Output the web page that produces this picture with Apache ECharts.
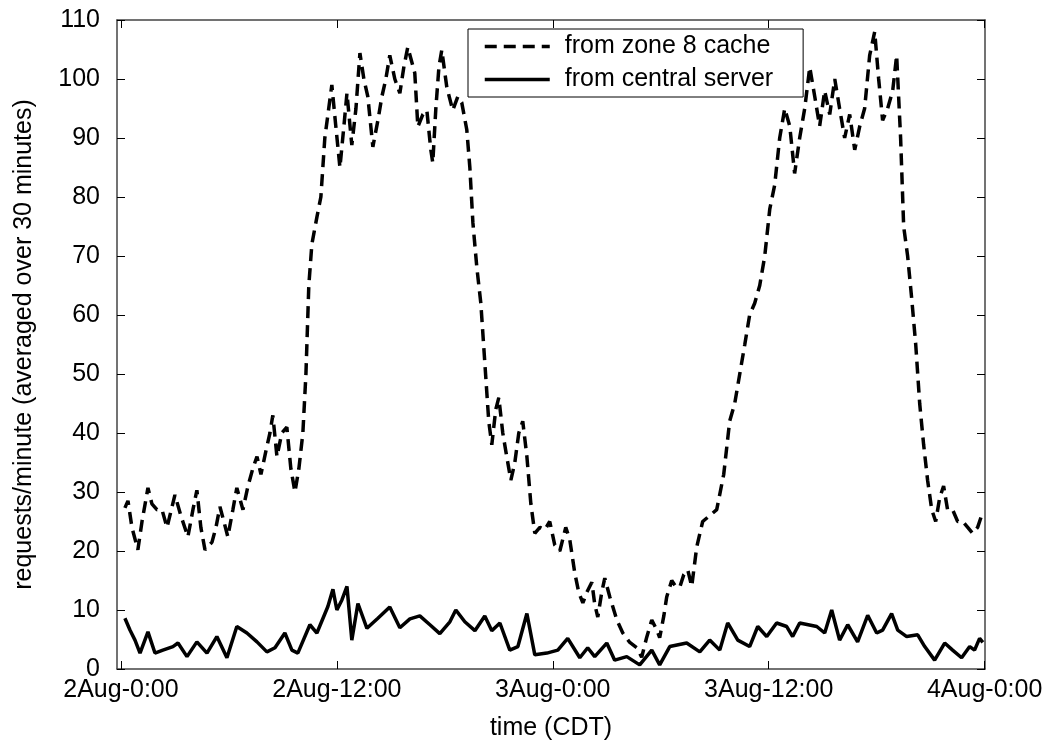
<!DOCTYPE html>
<html>
<head>
<meta charset="utf-8">
<script src="https://cdn.jsdelivr.net/npm/echarts@6.0.0/dist/echarts.min.js"></script>
<style>
html,body{margin:0;padding:0;background:#fff;}
#chart{width:1054px;height:749px;}
</style>
</head>
<body>
<div id="chart"></div>
<script>
// x values are hours since 2Aug 0:00 CDT
var tickHours = [0, 12, 24, 36, 48];
var tickLabels = ['2Aug-0:00', '2Aug-12:00', '3Aug-0:00', '3Aug-12:00', '4Aug-0:00'];
var seriesNames = ['from zone 8 cache', 'from central server'];

var cacheHours = [0.22,0.39,0.61,0.94,1.17,1.5,1.72,2.0,2.28,2.56,3.0,3.33,3.72,4.0,4.22,4.44,4.67,5.06,5.28,5.5,5.72,5.94,6.22,6.44,6.78,7.06,7.33,7.56,7.78,8.06,8.28,8.44,8.67,8.94,9.22,9.44,9.67,9.89,10.11,10.28,10.44,10.61,10.89,11.11,11.33,11.72,11.94,12.17,12.39,12.56,12.83,13.06,13.28,13.5,13.72,14.0,14.28,14.5,14.72,14.94,15.22,15.5,15.72,15.94,16.33,16.5,16.78,17.0,17.22,17.33,17.5,17.67,17.83,18.11,18.44,18.72,18.94,19.22,19.39,19.56,19.78,20.0,20.22,20.44,20.61,20.83,21.0,21.22,21.44,21.67,21.89,22.11,22.33,22.56,22.78,23.0,23.28,23.56,23.83,24.11,24.39,24.72,24.94,25.22,25.44,25.67,25.89,26.17,26.33,26.5,26.72,26.89,27.17,27.56,27.89,28.28,28.67,28.94,29.22,29.5,29.78,29.94,30.17,30.33,30.61,30.83,31.06,31.28,31.5,31.72,32.0,32.33,32.72,33.11,33.5,33.83,34.11,34.39,34.67,34.94,35.22,35.5,35.78,36.06,36.33,36.61,36.89,37.17,37.44,37.72,38.0,38.28,38.56,38.83,39.11,39.39,39.67,39.94,40.22,40.5,40.78,41.06,41.33,41.61,41.89,42.11,42.33,42.61,42.89,43.11,43.33,43.5,43.72,43.94,44.17,44.39,44.61,44.83,45.06,45.28,45.5,45.72,45.94,46.22,46.5,46.78,47.06,47.33,47.61,47.83];
var cacheValues = [27.3,28.5,24,20.2,25,30.7,28,27,27,24,29.5,26,22.4,27,30.3,24,20.2,21.5,24,27.5,25,22.4,27,30.7,27,31,34,36,33,37,40,43,36,40,41,34,30,34,40,50,65,72,76.6,80,90,99,92,85,92,97.6,88.8,95,104.4,100,97,88.5,93,97,100,104,100,97.6,102,105.4,101,91.9,94,94.7,88,85.8,95,102,104.9,98.6,94.7,97,96,91.4,85,75.6,68,62,52,42,38,44,46,40,36,32,35,40,42,36,28,23,24,23.6,25,21,20,24,22,16.3,13,11.2,13,14.7,11,8.8,13,15.4,12.2,8.3,6.1,4.5,3.6,2,5.4,8.3,6.6,5.3,9,12.2,15,14,13.9,16,16.8,14,20.7,25,26,27,33,42,45,50,55,60,62,65,70,78,82,90,95,92,84,90,95,102,97,92,98,94,100,95,90,94,88,92,95,104,108,100,93,95,98,104,90,75,70,63,55,45,38,32,27,25,29,31,27,27,25,25,24,23,24,26];

var centralHours = [0.22,0.5,0.78,1.06,1.5,1.89,2.33,2.89,3.17,3.67,4.22,4.78,5.33,5.89,6.44,7.0,7.56,8.11,8.56,9.11,9.5,9.83,10.5,10.89,11.5,11.78,12.0,12.28,12.56,12.83,13.17,13.67,14.28,14.94,15.5,16.06,16.61,17.17,17.72,18.28,18.61,19.11,19.67,20.22,20.61,21.06,21.61,22.06,22.56,23.0,23.67,24.28,24.83,25.5,25.94,26.33,27.0,27.44,28.11,28.83,29.5,29.94,30.5,31.44,32.17,32.72,33.28,33.72,34.28,34.94,35.39,35.89,36.44,37.0,37.33,37.72,38.67,39.11,39.5,39.94,40.39,40.94,41.5,42.0,42.33,42.83,43.17,43.67,44.28,44.67,45.22,45.78,46.22,46.72,47.17,47.44,47.72,47.9];
var centralValues = [8.6,6.6,4.9,2.7,6.3,2.7,3.2,3.8,4.4,2.1,4.6,2.7,5.5,1.9,7.2,6.1,4.6,2.9,3.6,6.1,3.2,2.7,7.5,6.1,10.6,13.5,10,11.7,14,4.9,11.1,6.9,8.6,10.5,7,8.5,9,7.5,6,8,10,8,6.5,9,6.5,7.8,3.2,3.8,9.4,2.4,2.7,3.2,5.2,1.9,3.6,2.1,4.4,1.5,2.1,0.7,3.2,0.7,3.8,4.4,2.9,4.9,3.2,7.8,4.9,3.8,7.2,5.5,7.8,7.2,5.5,7.8,7.2,6.1,10,4.9,7.5,4.6,9.1,6.1,6.6,9.4,6.6,5.5,5.8,3.8,1.5,4.4,3.2,1.9,3.8,3.2,5.2,4.5];

function zip(a, b) { return a.map(function (v, i) { return [v, b[i]]; }); }

var FONT = 'Liberation Sans, Arial, Helvetica, sans-serif';
var chart = echarts.init(document.getElementById('chart'), null, {renderer: 'canvas'});
var tickStyle = {show: true, inside: true, length: 8, lineStyle: {color: '#000', width: 1}, customValues: tickHours};
var borderLine = {show: true, onZero: false, lineStyle: {color: '#444', width: 1.5}};

chart.setOption({
  animation: false,
  backgroundColor: '#fff',
  grid: {left: 117, right: 69, top: 20, bottom: 80, containLabel: false},
  legend: {
    orient: 'vertical',
    left: 468, top: 29,
    padding: [5, 30, 5, 15],
    itemGap: 8,
    itemWidth: 65, itemHeight: 25,
    backgroundColor: '#fff',
    borderColor: '#000', borderWidth: 1,
    itemStyle: {opacity: 0, color: 'transparent', borderWidth: 0},
    lineStyle: {width: 3.5},
    textStyle: {fontFamily: FONT, fontSize: 25, color: '#000', padding: [0, 0, 0, 10]},
    data: seriesNames
  },
  xAxis: [{
    type: 'value', position: 'bottom', min: -0.22, max: 48.02,
    name: 'time (CDT)', nameLocation: 'middle', nameGap: 47,
    nameTextStyle: {fontFamily: FONT, fontSize: 25, color: '#000'},
    axisLine: borderLine,
    axisTick: tickStyle,
    axisLabel: {show: true, customValues: tickHours, margin: 9, fontFamily: FONT, fontSize: 25, color: '#000',
      formatter: function (v) { var i = tickHours.indexOf(v); return i >= 0 ? tickLabels[i] : ''; }},
    splitLine: {show: false}
  }, {
    type: 'value', position: 'top', min: -0.22, max: 48.02,
    axisLine: borderLine,
    axisTick: tickStyle,
    axisLabel: {show: false},
    splitLine: {show: false}
  }],
  yAxis: [{
    type: 'value', position: 'left', min: 0, max: 110, interval: 10,
    name: 'requests/minute (averaged over 30 minutes)', nameLocation: 'middle', nameGap: 80,
    nameTextStyle: {fontFamily: FONT, fontSize: 25, color: '#000'},
    axisLine: borderLine,
    axisTick: {show: true, inside: true, length: 8, lineStyle: {color: '#000', width: 1}},
    axisLabel: {margin: 17, fontFamily: FONT, fontSize: 25, color: '#000'},
    splitLine: {show: false}
  }, {
    type: 'value', position: 'right', min: 0, max: 110, interval: 10,
    axisLine: borderLine,
    axisTick: {show: true, inside: true, length: 8, lineStyle: {color: '#000', width: 1}},
    axisLabel: {show: false},
    splitLine: {show: false}
  }],
  series: [{
    name: seriesNames[0], type: 'line', xAxisIndex: 0, yAxisIndex: 0,
    symbol: 'none', smooth: false,
    lineStyle: {color: '#000', width: 3.5, type: [12, 7]},
    itemStyle: {color: '#000'},
    data: zip(cacheHours, cacheValues)
  }, {
    name: seriesNames[1], type: 'line', xAxisIndex: 0, yAxisIndex: 0,
    symbol: 'none', smooth: false,
    lineStyle: {color: '#000', width: 3.5, type: 'solid'},
    itemStyle: {color: '#000'},
    data: zip(centralHours, centralValues)
  }]
});
</script>
</body>
</html>
